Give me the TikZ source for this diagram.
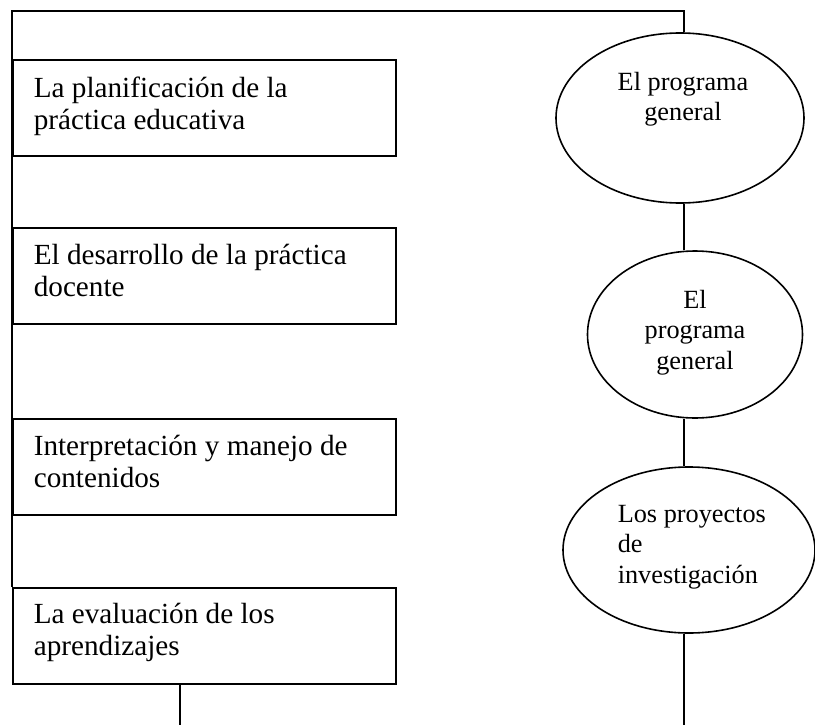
\documentclass[tikz,border=0pt]{standalone}
\usepackage{fontspec}
\setmainfont{Liberation Serif}
\usetikzlibrary{shapes.geometric}
\newcommand{\boxtext}[1]{\begin{tabular}[t]{@{}l@{}}#1\end{tabular}}
\newcommand{\elltextc}[1]{\begin{tabular}[t]{@{}c@{}}#1\end{tabular}}
\newcommand{\elltextl}[1]{\begin{tabular}[t]{@{}l@{}}#1\end{tabular}}
\begin{document}
\begin{tikzpicture}[x=0.75pt,y=-0.75pt,
  line width=1.2pt,
  boxshape/.style={draw, rectangle, anchor=north west, minimum width=287.25pt, minimum height=72pt, inner sep=0pt},
  ellshape/.style={draw, ellipse, inner sep=0pt},
  boxlabel/.style={inner sep=0pt, anchor=base west, font=\fontsize{21.9}{24}\selectfont},
  elllabel/.style={inner sep=0pt, font=\fontsize{19.7}{22.9}\selectfont}]
\useasboundingbox (0,0) rectangle (815,725);
% boxes
\node[boxshape] (b1) at (12,59) {};
\node[boxshape] (b2) at (12,227) {};
\node[boxshape] (b3) at (12,418) {};
\node[boxshape] (b4) at (12,587) {};
\node[boxlabel] (t1) at (33,97) {\boxtext{La planificación de la\\práctica educativa}};
\node[boxlabel] (t2) at (33,264) {\boxtext{El desarrollo de la práctica\\docente}};
\node[boxlabel] (t3) at (33,455) {\boxtext{Interpretación y manejo de\\contenidos}};
\node[boxlabel] (t4) at (33,623) {\boxtext{La evaluación de los\\aprendizajes}};
% ellipses
\node[ellshape, minimum width=186pt, minimum height=127.5pt] (e1) at (680,118) {};
\node[ellshape, minimum width=161.25pt, minimum height=125.25pt] (e2) at (695,334.5) {};
\node[ellshape, minimum width=189pt, minimum height=124.5pt] (e3) at (689,550) {};
\node[elllabel, anchor=base] (s1) at (683,90) {\elltextc{El programa\\general}};
\node[elllabel, anchor=base] (s2) at (695,308) {\elltextc{El\\programa\\general}};
\node[elllabel, anchor=base west] (s3) at (617,522) {\elltextl{Los proyectos\\de\\investigación}};
% connectors
\coordinate (tl) at (12,11);
\coordinate (tr) at (684,11);
\coordinate (rb) at (684,725);
\coordinate (lb) at (180,725);
\draw (b4.north west) -- (tl) -- (tr) -- (tr |- e1.north);
\draw (tr |- e1.south) -- (tr |- e2.north);
\draw (tr |- e2.south) -- (tr |- e3.north);
\draw (tr |- e3.south) -- (rb);
\draw (lb |- b4.south) -- (lb);
\end{tikzpicture}
\end{document}
